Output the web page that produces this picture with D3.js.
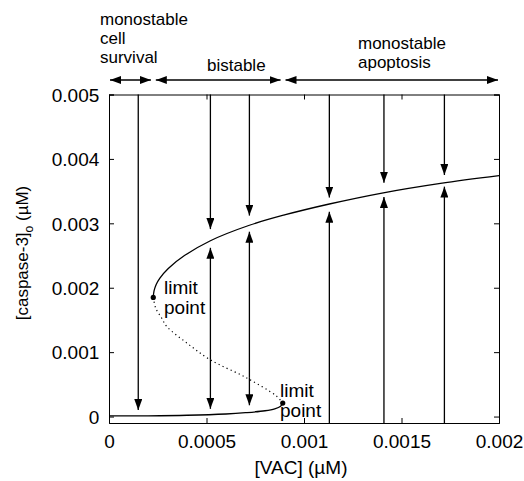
<!DOCTYPE html>
<html><head><meta charset="utf-8">
<script src="https://cdn.jsdelivr.net/npm/d3@7/dist/d3.min.js"></script>
<style>
body{margin:0;background:#fff;}
text{font-family:"Liberation Sans",Arial,sans-serif;fill:#000;}
</style></head>
<body>
<svg id="c" width="524" height="481"></svg>
<script>
// ---- data ----
const xTicks = [0, 0.0005, 0.001, 0.0015, 0.002];
const xTickLabels = ["0", "0.0005", "0.001", "0.0015", "0.002"];
const yTicks = [0, 0.001, 0.002, 0.003, 0.004, 0.005];
const yTickLabels = ["0", "0.001", "0.002", "0.003", "0.004", "0.005"];

// stable upper branch
const upperX = [0.000227, 0.000231, 0.000242, 0.000261, 0.000304, 0.000387, 0.00052, 0.00072, 0.0009, 0.00113, 0.0014, 0.0017, 0.002];
const upperY = [0.00185, 0.00195, 0.00205, 0.00215, 0.00230, 0.00250, 0.00273, 0.00297, 0.00313, 0.0033, 0.00347, 0.00362, 0.00374];
// unstable middle branch
const midX = [0.000227, 0.000240, 0.00027, 0.000296, 0.0004, 0.000518, 0.000706, 0.00086, 0.000891];
const midY = [0.00185, 0.00168, 0.00153, 0.0014, 0.00114, 0.000884, 0.0006, 0.000315, 0.00021];
// stable lower branch
const lowerX = [0, 0.0002, 0.0004, 0.0006, 0.0007, 0.0008, 0.00085, 0.00088, 0.000891];
const lowerY = [0.00001, 0.000012, 0.00002, 0.00004, 0.00006, 0.00009, 0.00012, 0.00016, 0.00021];

const limitX = [0.000227, 0.000891];
const limitY = [0.00185, 0.00021];

// vertical trajectory arrows: x, start y, end (tip) y ; arrowheads at tips
const arrowX     = [0.00015, 0.00052, 0.00052, 0.00052, 0.00072, 0.00072, 0.00072, 0.00113, 0.00113, 0.00141, 0.00141, 0.00172, 0.00172];
const arrowFrom  = [0.005,   0.005,   0.00088, 0.00088, 0.005,   0.0006,  0.0006,  0.005,   -0.0001, 0.005,   -0.0001, 0.005,   -0.0001];
const arrowTo    = [0.0001,  0.00291, 0.00262, 0.00012, 0.00312, 0.00287, 0.000175,0.0034,  0.00318, 0.00363, 0.00341, 0.00375, 0.00357];

// regime bands
const regionNames = [["monostable", "cell", "survival"], ["bistable"], ["monostable", "apoptosis"]];
const regionStart = [0, 0.000235, 0.0009];
const regionEnd   = [0.00022, 0.000885, 0.002];

// ---- layout ----
const svg = d3.select("#c");
const L = 109, R = 499, T = 94.5, B = 423;
const x = d3.scaleLinear().domain([0, 0.002]).range([L, R]);
const y = d3.scaleLinear().domain([-0.0001, 0.005]).range([B, T]);

svg.append("defs").append("marker")
  .attr("id", "ah").attr("viewBox", "0 0 11 8").attr("refX", 11).attr("refY", 4)
  .attr("markerWidth", 11).attr("markerHeight", 8).attr("markerUnits", "userSpaceOnUse")
  .attr("orient", "auto-start-reverse")
  .append("path").attr("d", "M0,0L11,4L0,8Z").attr("fill", "#000");

// axes
const fs = 19, fsTop = 17;
const axB = svg.append("g").attr("transform", `translate(0,${B})`)
  .call(d3.axisBottom(x).tickValues(xTicks).tickSize(-5).tickPadding(0).tickFormat((d,i)=>xTickLabels[i]));
axB.selectAll("text").attr("y", 24.5).attr("dy", 0).style("font-size", fs+"px");
svg.append("g").attr("transform", `translate(0,${T})`)
  .call(d3.axisTop(x).tickValues(xTicks).tickSize(-5).tickFormat(""));
const axL = svg.append("g").attr("transform", `translate(${L},0)`)
  .call(d3.axisLeft(y).tickValues(yTicks).tickSize(-5).tickPadding(9.7).tickFormat((d,i)=>yTickLabels[i]));
axL.selectAll("text").style("font-size", fs+"px").attr("dy", "0.36em");
svg.append("g").attr("transform", `translate(${R},0)`)
  .call(d3.axisRight(y).tickValues(yTicks).tickSize(-5).tickFormat(""));
svg.selectAll(".domain").attr("stroke", "#000").attr("stroke-width", 1);
svg.selectAll(".tick line").attr("stroke", "#000");

// axis titles
svg.append("text").attr("x", 301).attr("y", 474).attr("text-anchor", "middle")
  .style("font-size", fs+"px").text("[VAC] (\u00B5M)");
const yl = svg.append("text").attr("transform", "translate(28,253) rotate(-90)")
  .attr("text-anchor", "middle").style("font-size", fsTop+"px");
yl.append("tspan").text("[caspase-3]");
yl.append("tspan").attr("dy", 5).style("font-size", "12px").text("o");
yl.append("tspan").attr("dy", -5).text(" (\u00B5M)");

// curves
const line = d3.line().x(d=>x(d[0])).y(d=>y(d[1])).curve(d3.curveCatmullRom.alpha(0.5));
svg.append("path").attr("d", line(upperX.map((v,i)=>[v, upperY[i]])))
  .attr("fill", "none").attr("stroke", "#000").attr("stroke-width", 1.3);
svg.append("path").attr("d", line(lowerX.map((v,i)=>[v, lowerY[i]])))
  .attr("fill", "none").attr("stroke", "#000").attr("stroke-width", 1.3);
svg.append("path").attr("d", line(midX.map((v,i)=>[v, midY[i]])))
  .attr("fill", "none").attr("stroke", "#000").attr("stroke-width", 1.2).attr("stroke-dasharray", "1.2,3.2");

// trajectory arrows
arrowX.forEach((ax, i) => {
  svg.append("line").attr("x1", x(ax)).attr("x2", x(ax))
    .attr("y1", y(arrowFrom[i])).attr("y2", y(arrowTo[i]))
    .attr("stroke", "#000").attr("stroke-width", 1.3).attr("marker-end", "url(#ah)");
});

// limit points
limitX.forEach((lx, i) => {
  svg.append("circle").attr("cx", x(lx)).attr("cy", y(limitY[i])).attr("r", 2.6).attr("fill", "#000");
});
svg.append("text").attr("x", 164).attr("y", 294).style("font-size", fs+"px").text("limit");
svg.append("text").attr("x", 164).attr("y", 314).style("font-size", fs+"px").text("point");
svg.append("text").attr("x", 280).attr("y", 397).style("font-size", fs+"px").text("limit");
svg.append("text").attr("x", 280).attr("y", 417).style("font-size", fs+"px").text("point");

// regime arrows + labels
const bandY = 80;
regionStart.forEach((s, i) => {
  svg.append("line").attr("x1", x(s)+1).attr("x2", x(regionEnd[i])-1)
    .attr("y1", bandY).attr("y2", bandY).attr("stroke", "#000").attr("stroke-width", 1.5)
    .attr("marker-start", "url(#ah)").attr("marker-end", "url(#ah)");
});
const labelPos = [[100, 25], [207, 71], [358, 49]];
regionNames.forEach((lines, i) => {
  lines.forEach((t, j) => {
    svg.append("text").attr("x", labelPos[i][0]).attr("y", labelPos[i][1] + j*19)
      .style("font-size", fsTop+"px").text(t);
  });
});
</script>
</body></html>
